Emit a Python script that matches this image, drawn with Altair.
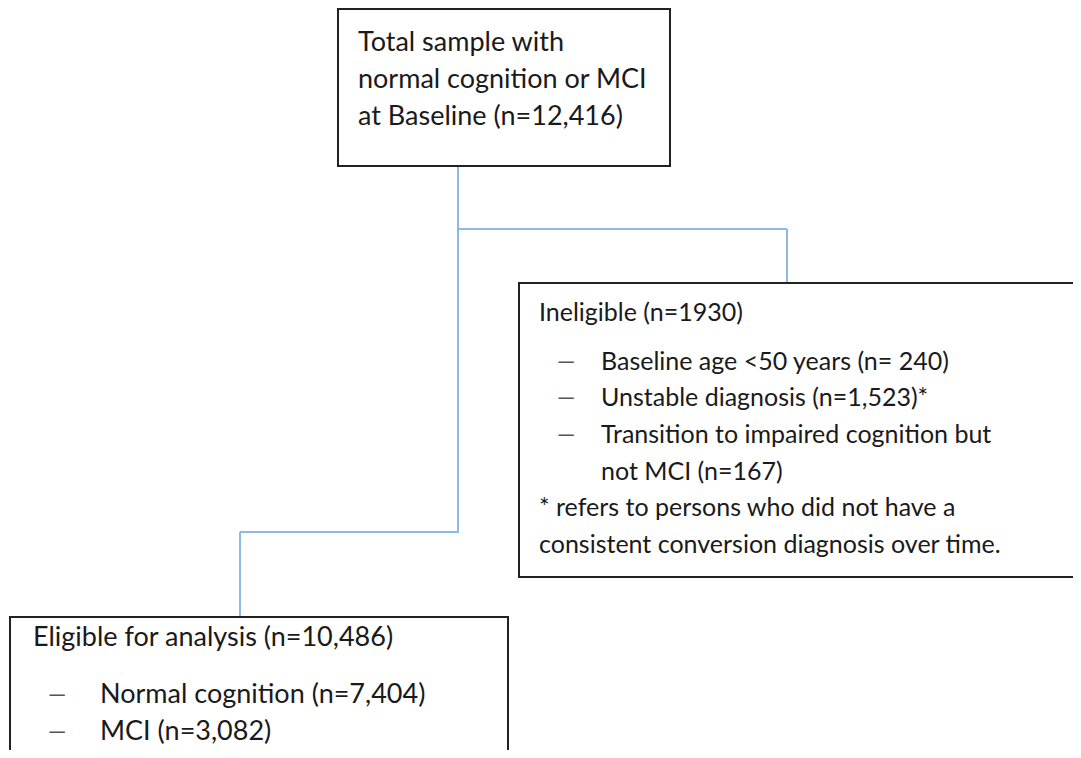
import altair as alt
import pandas as pd

# Boxes (page pixel coordinates: left, top, right, bottom)
box_x1 = [338, 519, 10]
box_y1 = [9, 283, 617]
box_x2 = [670, 1100, 508]
box_y2 = [166, 577, 800]

# Connector segments (x1, y1, x2, y2)
seg_x1 = [458, 458, 787, 240, 240]
seg_y1 = [166, 229, 229, 532, 532]
seg_x2 = [458, 787, 787, 459, 240]
seg_y2 = [532, 229, 287, 532, 617]

# Text in the top and bottom boxes (larger type)
big_labels = [
    "Total sample with",
    "normal cognition or MCI",
    "at Baseline (n=12,416)",
    "Eligible for analysis (n=10,486)",
    "Normal cognition (n=7,404)",
    "MCI (n=3,082)",
]
big_x = [358, 358, 358, 33, 100, 100]
big_y = [43, 80, 117, 638, 695, 732]

# Text in the right-hand box
small_labels = [
    "Ineligible (n=1930)",
    "Baseline age <50 years (n= 240)",
    "Unstable diagnosis (n=1,523)*",
    "Transition to impaired cognition but",
    "not MCI (n=167)",
    "* refers to persons who did not have a",
    "consistent conversion diagnosis over time.",
]
small_x = [539, 601, 601, 601, 601, 539, 539]
small_y = [313, 362, 398, 435, 472, 508, 545]

dash_x = [557, 557, 557, 48, 48]
dash_y = [362, 398, 435, 695, 732]

boxes = pd.DataFrame({"x": box_x1, "y": box_y1, "x2": box_x2, "y2": box_y2})
segs = pd.DataFrame({"x": seg_x1, "y": seg_y1, "x2": seg_x2, "y2": seg_y2})
big = pd.DataFrame({"label": big_labels, "x": big_x, "y": big_y})
small = pd.DataFrame({"label": small_labels, "x": small_x, "y": small_y})
dashes = pd.DataFrame({"label": ["—"] * len(dash_x), "x": dash_x, "y": dash_y})

xs = alt.Scale(domain=[8, 1073], nice=False, zero=False)
ys = alt.Scale(domain=[8, 750], nice=False, zero=False, reverse=True)

X = alt.X("x:Q", scale=xs, axis=None)
Y = alt.Y("y:Q", scale=ys, axis=None)

rects = alt.Chart(boxes).mark_rect(
    fill="white", stroke="#222222", strokeWidth=2, clip=True
).encode(x=X, x2="x2:Q", y=Y, y2="y2:Q")

lines = alt.Chart(segs).mark_rule(
    color="#8db9e6", strokeWidth=2
).encode(x=X, x2="x2:Q", y=Y, y2="y2:Q")

txt_big = alt.Chart(big).mark_text(
    align="left", baseline="middle", font="Lato", fontSize=27, color="#1a1a1a"
).encode(x=X, y=Y, text="label:N")

txt_small = alt.Chart(small).mark_text(
    align="left", baseline="middle", font="Lato", fontSize=25, color="#1a1a1a"
).encode(x=X, y=Y, text="label:N")

dsh = alt.Chart(dashes).mark_text(
    align="left", baseline="middle", font="Lato", fontSize=23, color="#555555"
).encode(x=X, y=Y, text="label:N")

chart = alt.layer(lines, rects, txt_big, txt_small, dsh).properties(
    width=1065, height=742, padding=0, autosize=alt.AutoSizeParams(type="none")
).configure_view(stroke=None)

chart.save("out.html", embed_options={"renderer": "svg", "actions": False})
